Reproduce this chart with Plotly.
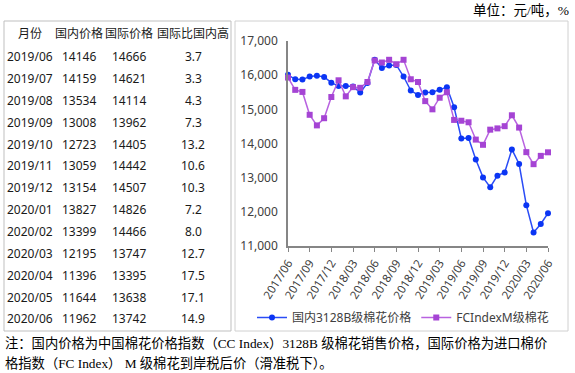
import plotly.graph_objects as go

# ---------------- data ----------------
months = ["2017/06", "2017/07", "2017/08", "2017/09", "2017/10", "2017/11", "2017/12",
          "2018/01", "2018/02", "2018/03", "2018/04", "2018/05", "2018/06", "2018/07",
          "2018/08", "2018/09", "2018/10", "2018/11", "2018/12", "2019/01", "2019/02",
          "2019/03", "2019/04", "2019/05", "2019/06", "2019/07", "2019/08", "2019/09",
          "2019/10", "2019/11", "2019/12", "2020/01", "2020/02", "2020/03", "2020/04",
          "2020/05", "2020/06"]
domestic = [16010, 15880, 15870, 15960, 15980, 15950, 15780, 15680, 15680, 15670, 15490,
            15770, 16450, 16210, 16280, 16300, 15960, 15550, 15420, 15490, 15500, 15570,
            15650, 15060, 14146, 14159, 13534, 13008, 12723, 13059, 13154, 13827, 13399,
            12195, 11396, 11644, 11962]
international = [15930, 15570, 15510, 14840, 14530, 14740, 15360, 15850, 15380, 15650,
                 15630, 15800, 16430, 16370, 16450, 16320, 16450, 15880, 15800, 15240,
                 15000, 15340, 15500, 14690, 14666, 14621, 14114, 13962, 14405, 14442,
                 14507, 14826, 14466, 13747, 13395, 13638, 13742]
tick_months = ["2017/06", "2017/09", "2017/12", "2018/03", "2018/06", "2018/09", "2018/12",
               "2019/03", "2019/06", "2019/09", "2019/12", "2020/03", "2020/06"]

table_header = ["月份", "国内价格", "国际价格", "国际比国内高"]
table_months = ["2019/06", "2019/07", "2019/08", "2019/09", "2019/10", "2019/11", "2019/12",
                "2020/01", "2020/02", "2020/03", "2020/04", "2020/05", "2020/06"]
table_dom = ["14146", "14159", "13534", "13008", "12723", "13059", "13154", "13827", "13399",
             "12195", "11396", "11644", "11962"]
table_intl = ["14666", "14621", "14114", "13962", "14405", "14442", "14507", "14826", "14466",
              "13747", "13395", "13638", "13742"]
table_ratio = ["3.7", "3.3", "4.3", "7.3", "13.2", "10.6", "10.3", "7.2", "8.0", "12.7",
               "17.5", "17.1", "14.9"]

series_names = ["国内3128B级棉花价格", "FCIndexM级棉花"]
unit_text = "单位：元/吨，%"
note_lines = ["注：国内价格为中国棉花价格指数（CC Index）3128B 级棉花销售价格，国际价格为进口棉价",
              "格指数（FC Index） M 级棉花到岸税后价（滑准税下）。"]

# ---------------- layout helpers ----------------
W, H = 575, 373
L, R, T, B = 288, 27, 41, 127
PW, PH = W - L - R, H - T - B


def px(x):
    return (x - L) / PW


def py(y):
    return (H - B - y) / PH


SANS = "Noto Sans, Noto Sans CJK SC, sans-serif"
SERIF = "Liberation Serif, Noto Sans CJK SC, serif"
TXT = "#404040"

fig = go.Figure()
fig.add_trace(go.Scatter(
    x=months, y=domestic, mode="lines+markers", name=series_names[0],
    line=dict(color="#2a4cf6", width=1.5),
    marker=dict(symbol="circle", size=6, color="#0b35f4"),
    cliponaxis=False))
fig.add_trace(go.Scatter(
    x=months, y=international, mode="lines+markers", name=series_names[1],
    line=dict(color="#b862e0", width=1.5),
    marker=dict(symbol="square", size=6, color="#a544d4"),
    cliponaxis=False))

fig.update_xaxes(
    type="category", range=[0, 36], tickmode="array",
    tickvals=tick_months, ticktext=tick_months, tickangle=-58,
    ticks="outside", ticklen=4, tickcolor="#868686", tickwidth=1,
    showline=True, linecolor="#868686", linewidth=1.5, showgrid=False,
    tickfont=dict(family=SANS, size=11.5, color=TXT))
fig.update_yaxes(
    range=[11000, 17000], dtick=1000, tickformat=",",
    showline=True, linecolor="#868686", linewidth=1.5,
    showgrid=False, zeroline=False, ticks="", ticklabelstandoff=6,
    tickfont=dict(family=SANS, size=12, color=TXT))

annotations = []
# table header
col_x = [30, 79, 129, 193]
for cx, htxt in zip(col_x, table_header):
    annotations.append(dict(x=px(cx), y=py(33.5), xref="paper", yref="paper",
                            text=htxt, showarrow=False, xanchor="center", yanchor="middle",
                            font=dict(family=SANS, size=12, color="#1a1a1a")))
for i in range(len(table_months)):
    ry = 56.7 + 21.85 * i
    row = [table_months[i], table_dom[i], table_intl[i], table_ratio[i]]
    for cx, val in zip(col_x, row):
        annotations.append(dict(x=px(cx), y=py(ry), xref="paper", yref="paper",
                                text=val, showarrow=False, xanchor="center", yanchor="middle",
                                font=dict(family=SANS, size=12, color="#1a1a1a")))
# unit
annotations.append(dict(x=px(571), y=py(10), xref="paper", yref="paper", text=unit_text,
                        showarrow=False, xanchor="right", yanchor="middle",
                        font=dict(family=SERIF, size=13.5, color="#000000")))
# footnote
for k, line in enumerate(note_lines):
    annotations.append(dict(x=px(3), y=py(343 + 20 * k), xref="paper", yref="paper", text=line,
                            showarrow=False, xanchor="left", yanchor="middle",
                            font=dict(family=SERIF, size=13.3, color="#000000")))

shapes = [
    dict(type="rect", xref="paper", yref="paper", x0=px(4), x1=px(231), y0=py(21), y1=py(331),
         line=dict(color="#BFBFBF", width=1), fillcolor="rgba(0,0,0,0)"),
    dict(type="rect", xref="paper", yref="paper", x0=px(235), x1=px(568), y0=py(21), y1=py(331),
         line=dict(color="#D0D0D0", width=1), fillcolor="rgba(0,0,0,0)"),
]

fig.update_layout(
    width=W, height=H, margin=dict(l=L, r=R, t=T, b=B, pad=0),
    paper_bgcolor="white", plot_bgcolor="white",
    showlegend=True,
    legend=dict(orientation="h", x=px(252), xanchor="left", y=py(303), yanchor="top",
                font=dict(family=SANS, size=12, color=TXT), itemwidth=30,
                bgcolor="rgba(0,0,0,0)", tracegroupgap=0),
    annotations=annotations, shapes=shapes,
)

fig.write_html("out.html", config={"displayModeBar": False},
               post_script="document.body.style.margin='0';")
